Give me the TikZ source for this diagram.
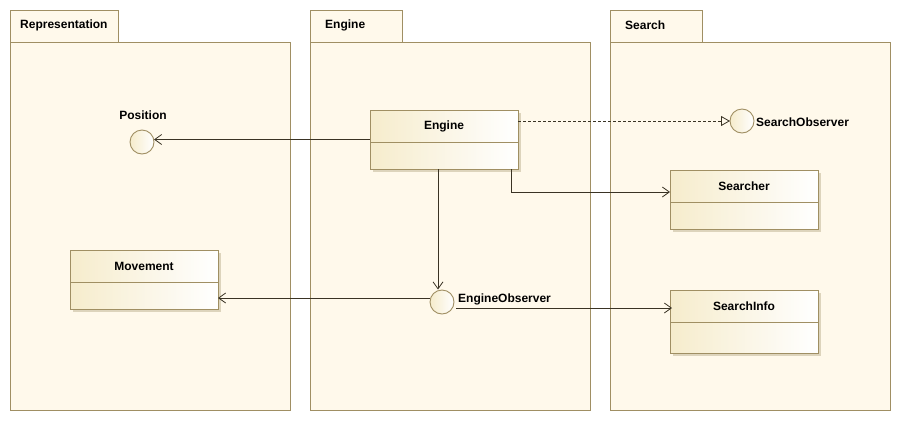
\documentclass[tikz,border=0pt]{standalone}
\usepackage{fontspec}
\setmainfont{Liberation Sans}
\usetikzlibrary{arrows.meta,shadows}
\definecolor{pkgfill}{HTML}{FFF9EB}
\definecolor{pkgline}{HTML}{A08F63}
\definecolor{clsL}{HTML}{F6ECCC}
\definecolor{lnc}{HTML}{3A3324}
\definecolor{shad}{HTML}{DDD4BC}
\begin{document}
\begin{tikzpicture}[x=1pt,y=-1pt,
  pkg/.style={draw=pkgline, fill=pkgfill, line width=0.9pt, inner sep=0pt, outer sep=0pt, anchor=north west},
  lbl/.style={font=\bfseries\fontsize{12pt}{14pt}\selectfont, text=black, inner sep=0pt},
  cls/.style={rectangle, draw=pkgline, line width=0.9pt, left color=clsL, right color=white,
    minimum width=148pt, inner sep=0pt, outer sep=0pt, anchor=north west},
  shadowbox/.style={fill=shad, draw=none},
  sep/.style={draw=pkgline, line width=0.9pt},
  iface/.style={circle, draw=pkgline, line width=0.9pt, left color=clsL, right color=white,
    minimum size=24pt, inner sep=0pt, outer sep=0pt},
  conn/.style={draw=lnc, line width=0.8pt, -{Straight Barb[length=7pt,width=10pt]}},
  real/.style={draw=lnc, line width=0.8pt, dash pattern=on 3pt off 2pt,
    -{Triangle[open,length=9pt,width=10pt,fill=pkgfill]}}
]
\useasboundingbox (0,0) rectangle (901,421);
\fill[white] (0,0) rectangle (901,421);

% packages
\node[pkg, minimum width=108pt, minimum height=32pt] (rept) at (10,10) {};
\node[pkg, minimum width=280pt, minimum height=368pt] (repb) at (10,42) {};
\node[lbl, anchor=west] (reptl) at (20,25) {Representation};

\node[pkg, minimum width=92pt, minimum height=32pt] (engt) at (310,10) {};
\node[pkg, minimum width=280pt, minimum height=368pt] (engb) at (310,42) {};
\node[lbl, anchor=west] (engtl) at (325,25) {Engine};

\node[pkg, minimum width=92pt, minimum height=32pt] (srct) at (610,10) {};
\node[pkg, minimum width=280pt, minimum height=368pt] (srcb) at (610,42) {};
\node[lbl, anchor=west] (srctl) at (625,25) {Search};

% shadows
\fill[shadowbox] (373,113) rectangle (521,172);
\fill[shadowbox] (673,173) rectangle (821,232);
\fill[shadowbox] (673,293) rectangle (821,356);
\fill[shadowbox] (73,253) rectangle (221,312);

% classes
\node[cls, minimum height=59pt] (engine) at (370,110) {};
\node[lbl] (enginel) at ([yshift=-16pt]engine.north) {Engine};
\draw[sep] ([yshift=-32pt]engine.north west) -- ([yshift=-32pt]engine.north east);

\node[cls, minimum height=59pt] (searcher) at (670,170) {};
\node[lbl] (searcherl) at ([yshift=-16pt]searcher.north) {Searcher};
\draw[sep] ([yshift=-32pt]searcher.north west) -- ([yshift=-32pt]searcher.north east);

\node[cls, minimum height=63pt] (sinfo) at (670,290) {};
\node[lbl] (sinfol) at ([yshift=-16pt]sinfo.north) {SearchInfo};
\draw[sep] ([yshift=-32pt]sinfo.north west) -- ([yshift=-32pt]sinfo.north east);

\node[cls, minimum height=59pt] (move) at (70,250) {};
\node[lbl] (movel) at ([yshift=-16pt]move.north) {Movement};
\draw[sep] ([yshift=-32pt]move.north west) -- ([yshift=-32pt]move.north east);

% interfaces
\node[iface] (pos) at (142,142) {};
\node[lbl] (posl) at (143,115) {Position};

\node[iface] (sobs) at (742,121) {};
\node[lbl, anchor=west] (sobsl) at (756,122) {SearchObserver};

\node[iface] (eobs) at (442,302) {};
\node[lbl, anchor=west] (eobsl) at (458,299) {EngineObserver};

% connectors
\draw[conn] (engine.west) -- (engine.west -| pos.east);
\draw[real] (engine.east |- sobs.west) -- (sobs.west);
\draw[conn] ([xshift=-7pt]engine.south east) |- ([yshift=-22pt]searcher.north west);
\draw[conn] ([xshift=-6pt]engine.south) -- ([xshift=-6pt,yshift=0.5pt]engine.south |- eobs.north);
\draw[conn] ([yshift=4pt]eobs.west) -- ([yshift=4pt]eobs.west -| move.east);
\draw[conn] ([yshift=-6pt,xshift=2pt]eobs.east) -- ([yshift=-6pt,xshift=2pt]eobs.east -| sinfo.west);
\end{tikzpicture}
\end{document}
